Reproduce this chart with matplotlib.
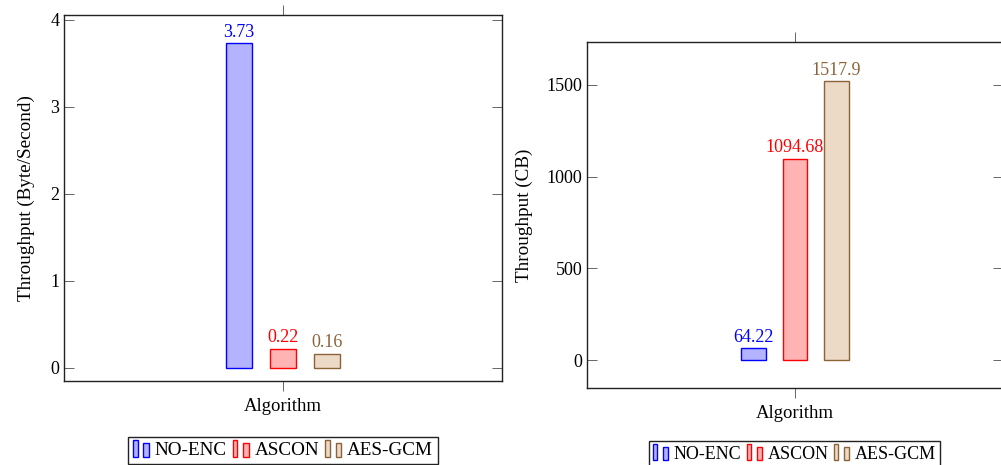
import matplotlib
matplotlib.use('Agg')
import matplotlib.pyplot as plt
from matplotlib.patches import Rectangle
from matplotlib.legend_handler import HandlerBase

plt.rcParams['font.family'] = ['Liberation Serif', 'DejaVu Serif']
plt.rcParams['font.size'] = 13

algos = ['NO-ENC', 'ASCON', 'AES-GCM']
rate = [3.73, 0.22, 0.16]
cb = [64.22, 1094.68, 1517.9]
category = 'Algorithm'

edges = ['#0000ff', '#ff0000', '#8c6239']
fills = ['#b3b3ff', '#ffb3b3', '#ecd9c6']


class TwoBars(HandlerBase):
    # pgfplots-style ybar legend image: two small bars
    def create_artists(self, legend, orig, x0, y0, width, height, fontsize, trans):
        fc = orig.get_facecolor()
        ec = orig.get_edgecolor()
        h = height * 1.3
        b = y0 - height * 0.15
        r1 = Rectangle((x0, b), width * 0.27, h, fc=fc, ec=ec, lw=1, transform=trans)
        r2 = Rectangle((x0 + width * 0.6, b), width * 0.33, h * 0.8, fc=fc, ec=ec, lw=1, transform=trans)
        return [r1, r2]


def panel(ax, vals, ylabel, ylim, yticks, labelx, fmt):
    offs = [-1, 0, 1]
    bars = []
    for o, v, f, e, name in zip(offs, vals, fills, edges, algos):
        b = ax.bar(o, v, width=0.6, color=f, edgecolor=e, linewidth=1, label=name)
        bars.append(b[0])
        ax.annotate(fmt(v), (o, v), xytext=(0, 2), textcoords='offset points',
                    ha='center', va='bottom', color=e, fontsize=13)
    ax.set_xlim(-5, 5)
    ax.set_ylim(*ylim)
    ax.set_yticks(yticks)
    ax.set_xticks([0], [category])
    ax.tick_params(axis='y', direction='in', left=True, right=True, length=7,
                   width=0.7, color='#666666', labelsize=13)
    ax.tick_params(axis='x', direction='out', top=True, bottom=True, length=7,
                   width=0.7, color='#666666', labelsize=13.5, pad=5)
    for s in ax.spines.values():
        s.set_linewidth(1.0)
        s.set_color('#222222')
    ax.set_ylabel(ylabel, fontsize=13.8)
    ax.yaxis.set_label_coords(labelx, 0.5)
    return bars


fig = plt.figure(figsize=(10.01, 4.65), dpi=100)
W, H = 1001, 465
ax1 = fig.add_axes([64 / W, (H - 381) / H, 438 / W, 366 / H])
ax2 = fig.add_axes([587 / W, (H - 388) / H, 416 / W, 346 / H])

b1 = panel(ax1, rate, 'Throughput (Byte/Second)', (-0.15, 4.057), [0, 1, 2, 3, 4], -0.066,
           lambda v: f'{v:g}')
b2 = panel(ax2, cb, 'Throughput (CB)', (-152, 1733), [0, 500, 1000, 1500], -0.13,
           lambda v: f'{v:g}')

for bars, cx, top, fs in [(b1, 283, 437, 13.8), (b2, 794.5, 441, 13.0)]:
    leg = fig.legend(bars, algos, loc='upper center', bbox_to_anchor=(cx / W, 1 - top / H),
                     ncol=3, fancybox=False, framealpha=1, edgecolor='#222222',
                     handler_map={Rectangle: TwoBars()}, handlelength=0.9,
                     handletextpad=0.25, columnspacing=0.3, borderpad=0.25,
                     borderaxespad=0, fontsize=fs)
    leg.get_frame().set_linewidth(1.0)

fig.savefig('out.png', dpi=100)
